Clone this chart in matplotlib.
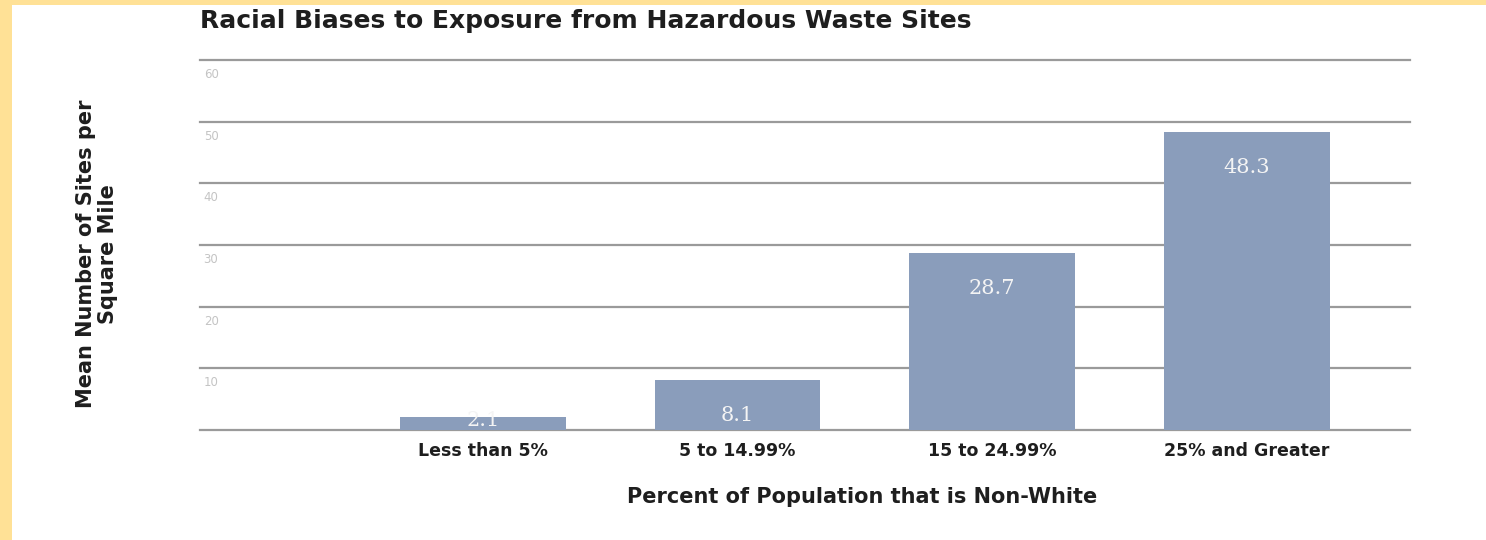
import matplotlib.pyplot as plt
from matplotlib.patches import Rectangle

# data
categories = ["Less than 5%", "5 to 14.99%", "15 to 24.99%", "25% and Greater"]
values = [2.1, 8.1, 28.7, 48.3]
y_ticks = [10, 20, 30, 40, 50, 60]

BAR_COLOR = "#8a9dbb"
GRID_COLOR = "#9a9a9a"
BORDER = "#ffe196"
TEXT = "#1e1e1e"
W, H = 1486, 540

fig = plt.figure(figsize=(W / 100, H / 100), dpi=100)
fig.patch.set_facecolor("white")

# yellow frame on left and top
fig.add_artist(Rectangle((0, 0), 12 / W, 1, transform=fig.transFigure,
                         facecolor=BORDER, edgecolor="none", zorder=0))
fig.add_artist(Rectangle((0, 1 - 5 / H), 1, 5 / H, transform=fig.transFigure,
                         facecolor=BORDER, edgecolor="none", zorder=0))

# axes area: x 200..1410 px, y 60..430 px (top-down)
ax = fig.add_axes([200 / W, 1 - 430 / H, 1210 / W, 370 / H])
ax.set_facecolor("none")
x = list(range(len(categories)))
ax.bar(x, values, width=0.65, color=BAR_COLOR, zorder=2)
ax.set_xlim(-1.11, 3.64)
ax.set_ylim(0, 60)

for t in [0] + y_ticks:
    ax.axhline(t, color=GRID_COLOR, lw=1.6, zorder=1, clip_on=False)
for t in y_ticks:
    ax.text(0.003, t - 1.3, str(t), transform=ax.get_yaxis_transform(),
            ha="left", va="top", fontsize=8.5, color="#c4c4c4", family="DejaVu Sans")

# value labels sit a little below the bar top, but stay inside short bars
for xi, v in zip(x, values):
    ax.text(xi, max(v - 5.8, 1.5), f"{v}", ha="center", va="center",
            fontsize=15, color="#f4f4f4", family="DejaVu Serif", zorder=3)

ax.set_xticks(x)
ax.set_xticklabels(categories, fontsize=12.5, family="DejaVu Sans",
                   fontweight="bold", color=TEXT)
ax.tick_params(axis="x", length=0, pad=9)
ax.set_yticks([])
for s in ax.spines.values():
    s.set_visible(False)

fig.text(200 / W, 1 - 21 / H, "Racial Biases to Exposure from Hazardous Waste Sites",
         ha="left", va="center", fontsize=18, family="DejaVu Sans", fontweight="bold",
         color=TEXT)
fig.text(862 / W, 1 - 497 / H, "Percent of Population that is Non-White",
         ha="center", va="center", fontsize=15, family="DejaVu Sans", fontweight="bold",
         color=TEXT)
fig.text(97 / W, 1 - 254 / H, "Mean Number of Sites per\nSquare Mile",
         ha="center", va="center", rotation=90, fontsize=15, family="DejaVu Sans",
         fontweight="bold", color=TEXT, linespacing=1.1)

fig.savefig("out.png", dpi=100, facecolor=fig.get_facecolor())
